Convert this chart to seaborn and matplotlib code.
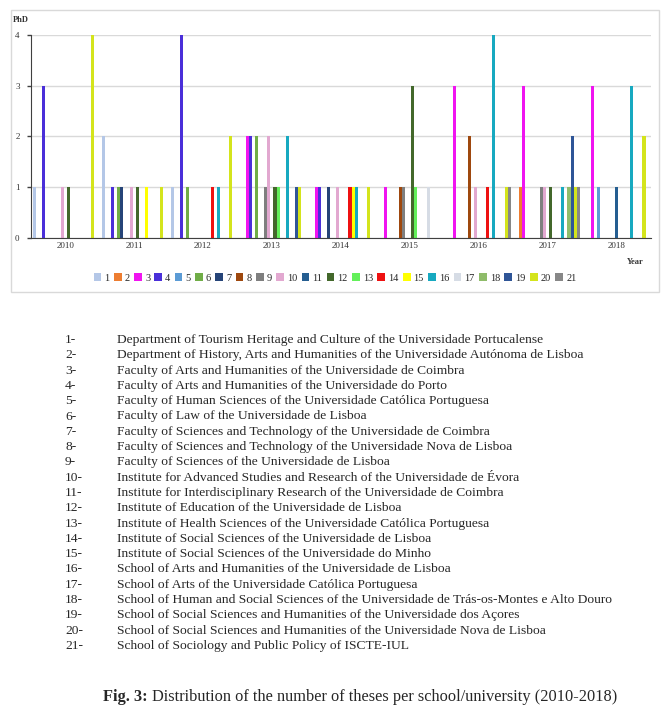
import pandas as pd
import matplotlib.pyplot as plt
import seaborn as sns
from matplotlib.patches import Rectangle

years = ["2010", "2011", "2012", "2013", "2014", "2015", "2016", "2017", "2018"]
schools = [str(i) for i in range(1, 22)]

# number of PhD theses per school (1..21), one list per year
y2010 = [1, 0, 0, 3, 0, 0, 0, 0, 0, 1, 0, 1, 0, 0, 0, 0, 0, 0, 0, 4, 0]
y2011 = [2, 0, 0, 1, 0, 1, 1, 0, 0, 1, 0, 1, 0, 0, 1, 0, 0, 0, 0, 1, 0]
y2012 = [1, 0, 0, 4, 0, 1, 0, 0, 0, 0, 0, 0, 0, 1, 0, 1, 0, 0, 0, 2, 0]
y2013 = [0, 0, 2, 2, 0, 2, 0, 0, 1, 2, 0, 1, 1, 0, 0, 2, 0, 0, 1, 1, 0]
y2014 = [0, 0, 1, 1, 0, 0, 1, 0, 0, 1, 0, 0, 0, 1, 1, 1, 0, 0, 0, 1, 0]
y2015 = [0, 0, 1, 0, 0, 0, 0, 1, 1, 0, 0, 3, 1, 0, 0, 0, 1, 0, 0, 0, 0]
y2016 = [0, 0, 3, 0, 0, 0, 0, 2, 0, 1, 0, 0, 0, 1, 0, 4, 0, 0, 0, 1, 1]
y2017 = [0, 1, 3, 0, 0, 0, 0, 0, 1, 1, 0, 1, 0, 0, 0, 1, 0, 1, 2, 1, 1]
y2018 = [0, 0, 3, 0, 1, 0, 0, 0, 0, 0, 1, 0, 0, 0, 0, 3, 0, 0, 0, 2, 0]
per_year = [y2010, y2011, y2012, y2013, y2014, y2015, y2016, y2017, y2018]

names = [
    "Department of Tourism Heritage and Culture of the Universidade Portucalense",
    "Department of History, Arts and Humanities of the Universidade Autónoma de Lisboa",
    "Faculty of Arts and Humanities of the Universidade de Coimbra",
    "Faculty of Arts and Humanities of the Universidade do Porto",
    "Faculty of Human Sciences of the Universidade Católica Portuguesa",
    "Faculty of Law of the Universidade de Lisboa",
    "Faculty of Sciences and Technology of the Universidade de Coimbra",
    "Faculty of Sciences and Technology of the Universidade Nova de Lisboa",
    "Faculty of Sciences of the Universidade de Lisboa",
    "Institute for Advanced Studies and Research of the Universidade de Évora",
    "Institute for Interdisciplinary Research of the Universidade de Coimbra",
    "Institute of Education of the Universidade de Lisboa",
    "Institute of Health Sciences of the Universidade Católica Portuguesa",
    "Institute of Social Sciences of the Universidade de Lisboa",
    "Institute of Social Sciences of the Universidade do Minho",
    "School of Arts and Humanities of the Universidade de Lisboa",
    "School of Arts of the Universidade Católica Portuguesa",
    "School of Human and Social Sciences of the Universidade de Trás-os-Montes e Alto Douro",
    "School of Social Sciences and Humanities of the Universidade dos Açores",
    "School of Social Sciences and Humanities of the Universidade Nova de Lisboa",
    "School of Sociology and Public Policy of ISCTE-IUL",
]

colors = ["#b4c7e7", "#ed7d31", "#f014f0", "#4a2fd9", "#5b9bd5", "#70ad47", "#264478",
          "#9e480e", "#7f7f7f", "#e2a8d0", "#255e91", "#43682b", "#63f05a", "#ee1111",
          "#ffff00", "#17a9c0", "#d6dce5", "#8fbc6a", "#2f5597", "#d4e41c", "#878787"]

rows = []
for yr, vals in zip(years, per_year):
    for s, v in zip(schools, vals):
        rows.append({"Year": yr, "School": s, "PhD": v})
df = pd.DataFrame(rows)

sns.set_style("white")
plt.rcParams["font.family"] = ["Liberation Serif", "DejaVu Serif"]

fig = plt.figure(figsize=(6.72, 7.13), dpi=100)
ax = fig.add_axes([30.7 / 672, 1 - 238 / 713, (651 - 30.7) / 672, (238 - 35) / 713])

sns.barplot(data=df, x="Year", y="PhD", hue="School", order=years, hue_order=schools,
            palette=colors, saturation=1, width=0.93, gap=0.0, ax=ax, linewidth=0,
            errorbar=None)

ax.set_ylim(0, 4)
ax.set_xlim(-0.5, 8.5)
ax.set_yticks([0, 1, 2, 3, 4])
ax.yaxis.grid(True, color="#d9d9d9", linewidth=1)
ax.set_axisbelow(True)
ax.set_xlabel("")
ax.set_ylabel("")
for sp in ["top", "right"]:
    ax.spines[sp].set_visible(False)
ax.spines["left"].set_color("#404040")
ax.spines["bottom"].set_color("#404040")
ax.set_xticks([i - 0.5 for i in range(10)], minor=True)
ax.tick_params(axis="x", which="major", length=0, labelsize=6.5, pad=3, colors="#333333")
ax.tick_params(axis="x", which="minor", length=4, width=1, color="#404040", direction="out")
ax.tick_params(axis="y", length=3, width=1, color="#404040", labelsize=6.5, pad=5,
               labelcolor="#333333", left=True)

sns.move_legend(ax, "center", bbox_to_anchor=(0.4985, 1 - 278 / 713),
                bbox_transform=fig.transFigure, ncol=21, frameon=False, title=None,
                fontsize=7.5, handlelength=0.75, handleheight=0.75, handletextpad=0.3,
                columnspacing=0.4, borderaxespad=0)

fig.text(13 / 672, 1 - 20 / 713, "PhD", fontsize=6, fontweight="bold", va="center", color="#333333")
fig.text(644 / 672, 1 - 262 / 713, "Year", fontsize=6, fontweight="bold", va="center",
         ha="right", color="#333333")

fig.patches.append(Rectangle((11 / 672, 1 - 292 / 713), (659 - 11) / 672, (292 - 10) / 713,
                             transform=fig.transFigure, fill=False, edgecolor="#d9d9d9",
                             linewidth=1))

for i, name in enumerate(names):
    yy = 1 - (340 + i * 15.3) / 713
    fig.text(65 / 672, yy, f"{i + 1}-", fontsize=9.7, va="center")
    fig.text(117 / 672, yy, name, fontsize=9.7, va="center")

cap_y = 1 - 697 / 713
t1 = fig.text(103 / 672, cap_y, "Fig. 3:", fontsize=11.8, fontweight="bold", va="center")
fig.canvas.draw()
bb = t1.get_window_extent()
fig.text((bb.x1 + 4) / 672, cap_y,
         "Distribution of the number of theses per school/university (2010-2018)",
         fontsize=11.8, va="center")

fig.savefig("out.png", dpi=100)
